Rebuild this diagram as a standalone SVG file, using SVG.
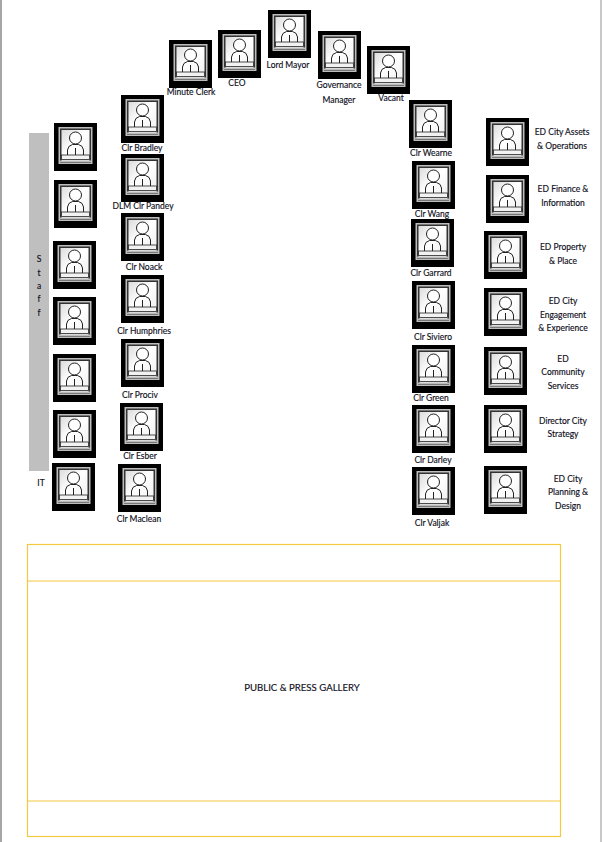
<svg xmlns="http://www.w3.org/2000/svg" width="602" height="842" viewBox="0 0 602 842">
<style>
text{font-family:Lato,"Open Sans","Liberation Sans",sans-serif;font-size:8.5px;fill:#10101c;text-anchor:middle;stroke:#10101c;stroke-width:.15px}
.y{fill:none;stroke:#f5c842;stroke-width:1.2}
.l{fill:none;stroke:#222;stroke-width:1}
</style>
<defs>
<linearGradient id="g" x1="0" y1="0" x2="1" y2="1"><stop offset="0" stop-color="#dcdcdc"/><stop offset=".45" stop-color="#fff"/><stop offset="1" stop-color="#efefef"/></linearGradient>
<symbol id="seat" viewBox="0 0 43 48" width="43" height="48">
<rect width="43" height="48" fill="#000"/>
<rect x="4.500" y="4" width="34" height="37" fill="#bdbdbd"/>
<rect x="6" y="5.500" width="31" height="34" fill="#333"/>
<rect x="7.500" y="7" width="28" height="31" fill="url(#g)"/>
<circle cx="21.500" cy="15" r="6" fill="#fff" stroke="#222"/>
<path class="l" d="M13.500 32V27Q14 22.500 18.500 21.500H24.500Q29 22.500 29.500 27V32"/>
<path class="l" d="M21.500 25V32"/>
<rect x="7.500" y="32" width="28" height="4.500" fill="#f2f2f2" stroke="#222" stroke-width=".8"/>
<rect x="6" y="37.500" width="31" height="1.500" fill="#bbb"/>
</symbol>
</defs>
<rect width="602" height="842" fill="#fff"/>
<rect x="0" y="0" width="2" height="842" fill="#a6a6a6"/>
<rect x="600" y="0" width="2" height="842" fill="#c8c8c8"/>
<g id="staff-bar"><rect x="29" y="133" width="20" height="338" fill="#bfbfbf"/>
<text x="39" y="262">S</text><text x="39" y="276">t</text><text x="39" y="289">a</text><text x="39" y="302">f</text><text x="39" y="316">f</text></g>
<g id="it"><text x="41" y="486">IT</text></g>
<g id="lord-mayor"><use href="#seat" x="268" y="10"/><text x="288" y="68">Lord Mayor</text></g>
<g id="ceo"><use href="#seat" x="218" y="30"/><text x="237" y="86">CEO</text></g>
<g id="minute-clerk"><use href="#seat" x="169" y="40"/><text x="191" y="95">Minute Clerk</text></g>
<g id="governance"><use href="#seat" x="318" y="31"/><text x="339" y="88">Governance</text><text x="339" y="103">Manager</text></g>
<g id="vacant"><use href="#seat" x="367" y="46"/><text x="391" y="101">Vacant</text></g>
<g id="clr-bradley"><use href="#seat" x="121" y="95"/><text x="142" y="151">Clr Bradley</text></g>
<g id="clr-pandey"><use href="#seat" x="121" y="154"/><text x="143" y="209">DLM Clr Pandey</text></g>
<g id="clr-noack"><use href="#seat" x="121" y="213"/><text x="144" y="270">Clr Noack</text></g>
<g id="clr-humphries"><use href="#seat" x="121" y="275"/><text x="144" y="334">Clr Humphries</text></g>
<g id="clr-prociv"><use href="#seat" x="121" y="339"/><text x="140" y="398">Clr Prociv</text></g>
<g id="clr-esber"><use href="#seat" x="120" y="403"/><text x="140" y="459">Clr Esber</text></g>
<g id="clr-maclean"><use href="#seat" x="118" y="464"/><text x="139" y="522">Clr Maclean</text></g>
<g id="clr-wearne"><use href="#seat" x="409" y="100"/><text x="431" y="156">Clr Wearne</text></g>
<g id="clr-wang"><use href="#seat" x="412" y="161"/><text x="432" y="217">Clr Wang</text></g>
<g id="clr-garrard"><use href="#seat" x="411" y="219"/><text x="431" y="276">Clr Garrard</text></g>
<g id="clr-siviero"><use href="#seat" x="412" y="281"/><text x="433" y="340">Clr Siviero</text></g>
<g id="clr-green"><use href="#seat" x="412" y="345"/><text x="431" y="401">Clr Green</text></g>
<g id="clr-darley"><use href="#seat" x="412" y="405"/><text x="433" y="463">Clr Darley</text></g>
<g id="clr-valjak"><use href="#seat" x="412" y="467"/><text x="432" y="526">Clr Valjak</text></g>
<g id="staff-1"><use href="#seat" x="54" y="123"/></g>
<g id="staff-2"><use href="#seat" x="54" y="180"/></g>
<g id="staff-3"><use href="#seat" x="53" y="241"/></g>
<g id="staff-4"><use href="#seat" x="53" y="297"/></g>
<g id="staff-5"><use href="#seat" x="53" y="354"/></g>
<g id="staff-6"><use href="#seat" x="53" y="410"/></g>
<g id="staff-7"><use href="#seat" x="52" y="463"/></g>
<g id="ed-assets"><use href="#seat" x="486" y="118"/><text x="562" y="135">ED City Assets</text><text x="562" y="149">&amp; Operations</text></g>
<g id="ed-finance"><use href="#seat" x="486" y="175"/><text x="563" y="192">ED Finance &amp;</text><text x="563" y="206">Information</text></g>
<g id="ed-property"><use href="#seat" x="484" y="231"/><text x="563" y="250">ED Property</text><text x="563" y="264">&amp; Place</text></g>
<g id="ed-engagement"><use href="#seat" x="484" y="288"/><text x="563" y="304">ED City</text><text x="563" y="318">Engagement</text><text x="563" y="331">&amp; Experience</text></g>
<g id="ed-community"><use href="#seat" x="484" y="347"/><text x="563" y="362">ED</text><text x="563" y="375">Community</text><text x="563" y="389">Services</text></g>
<g id="ed-strategy"><use href="#seat" x="484" y="405"/><text x="563" y="424">Director City</text><text x="563" y="437">Strategy</text></g>
<g id="ed-planning"><use href="#seat" x="484" y="466"/><text x="568" y="482">ED City</text><text x="568" y="495">Planning &amp;</text><text x="568" y="509">Design</text></g>
<g id="gallery">
<rect class="y" x="27.500" y="544.500" width="533" height="292"/>
<path class="y" d="M27.500 581H560.500M27.500 801H560.500"/>
<text x="302" y="691" style="font-size:9.6px">PUBLIC &amp; PRESS GALLERY</text>
</g>
</svg>
